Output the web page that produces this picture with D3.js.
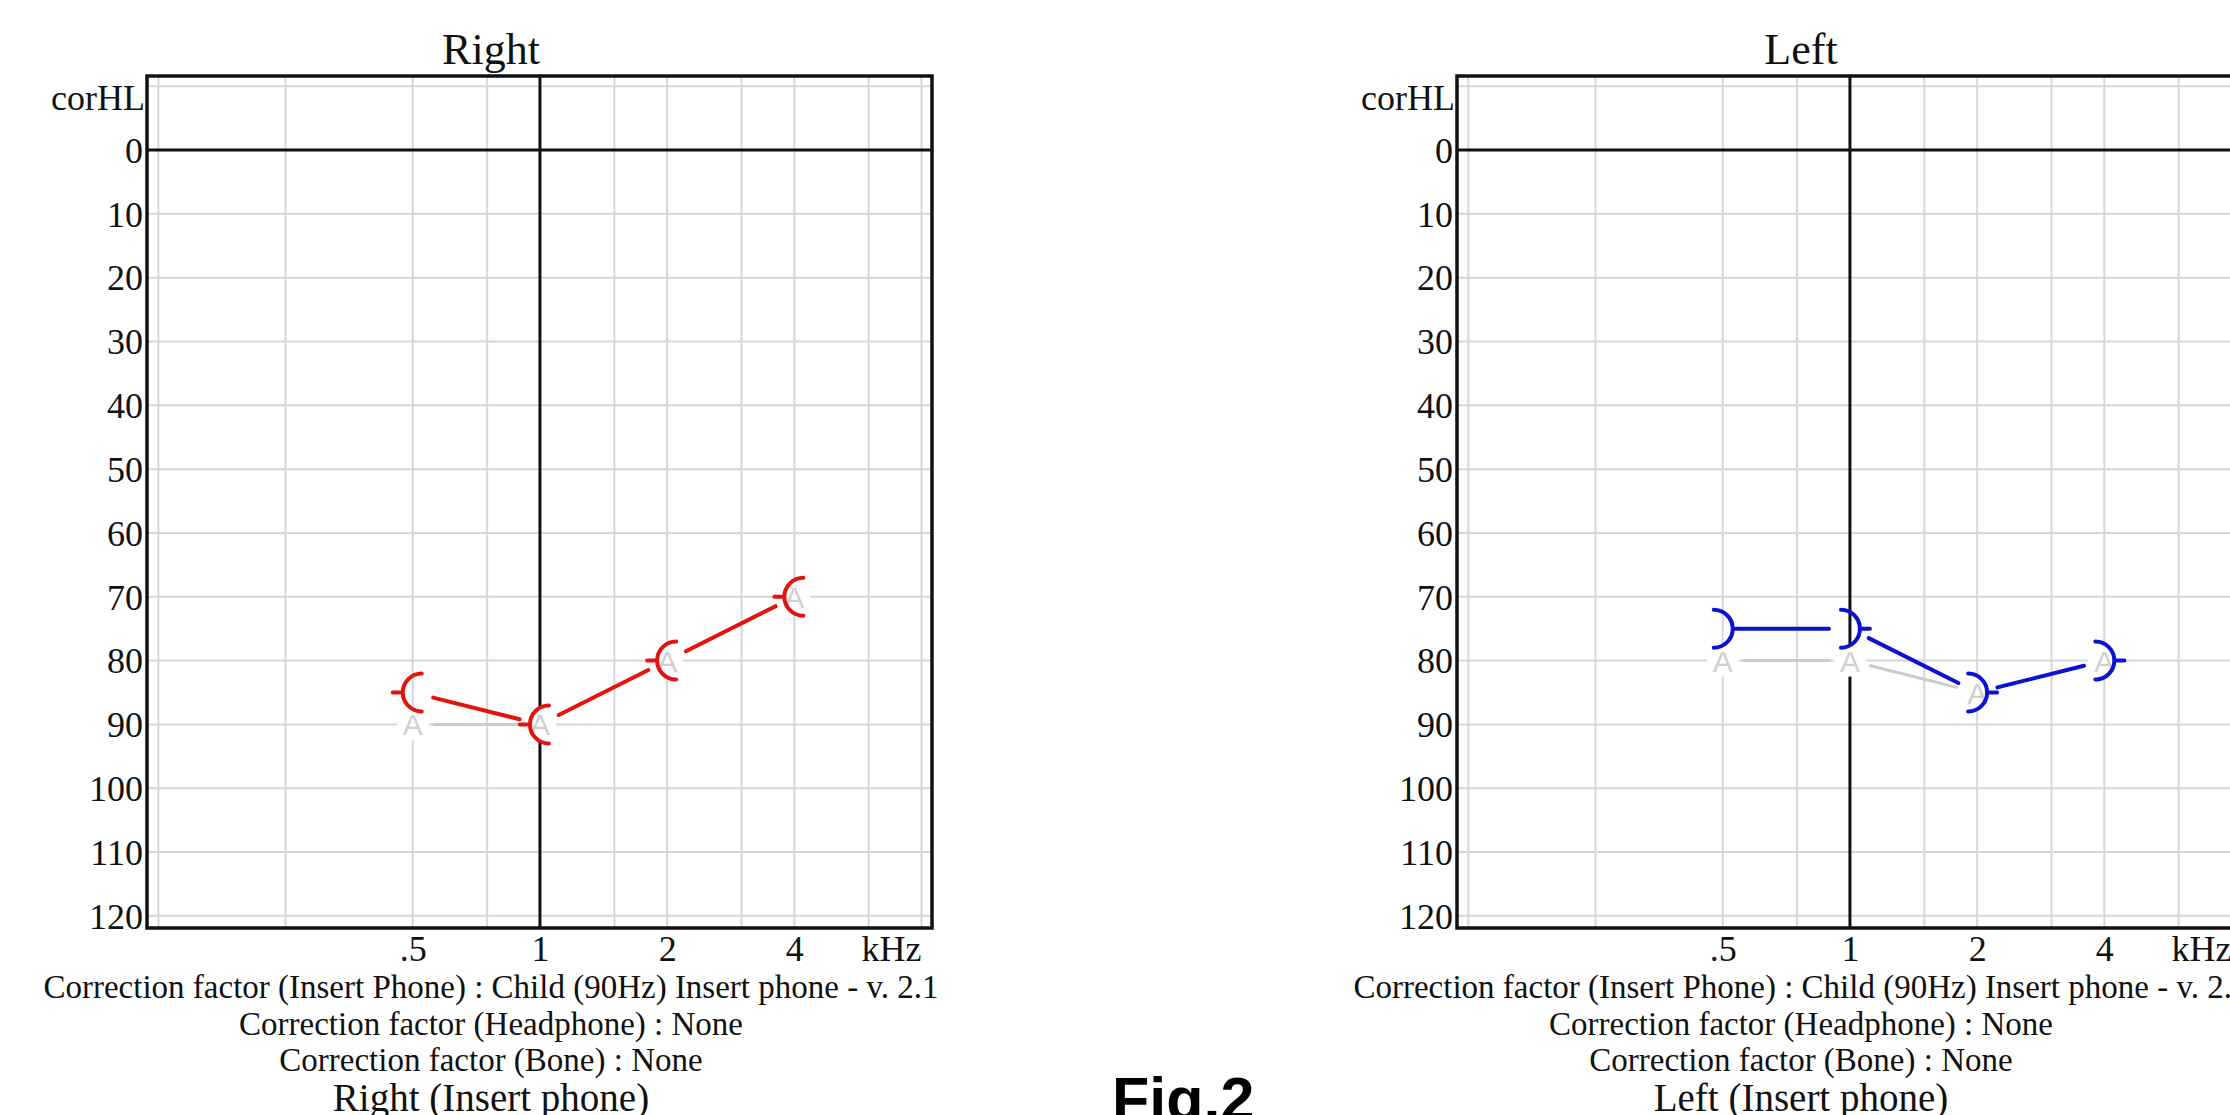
<!DOCTYPE html>
<html>
<head>
<meta charset="utf-8">
<script src="https://cdn.jsdelivr.net/npm/d3@7"></script>
<style>
  html,body{margin:0;padding:0;background:#fff;}
  svg{display:block;}
</style>
</head>
<body>
<div id="chart"></div>
<script>
// audiogram pair -- right (red) and left (blue) ear, insert phone

const GRID_FREQS = [125, 250, 500, 750, 1000, 1500, 2000, 3000, 4000, 6000, 8000];
const FREQ_TICKS = [500, 1000, 2000, 4000];
const FREQ_LABELS = [".5", "1", "2", "4"];
const DB_TICKS = [0, 10, 20, 30, 40, 50, 60, 70, 80, 90, 100, 110, 120];
const DB_GRID = [-10, 10, 20, 30, 40, 50, 60, 70, 80, 90, 100, 110, 120];

const TEST_FREQS = [500, 1000, 2000, 4000];
const RIGHT_THRESH = [85, 90, 80, 70];
const RIGHT_A = [90, 90, 80, 70];
const LEFT_THRESH = [75, 75, 85, 80];
const LEFT_A = [80, 80, 85, 80];

const FOOTER_LINES = [
  "Correction factor (Insert Phone) : Child (90Hz) Insert phone - v. 2.1",
  "Correction factor (Headphone) : None",
  "Correction factor (Bone) : None"
];

const PANELS = [
  { title:"Right", sub:"Right (Insert phone)", thresh:RIGHT_THRESH, aval:RIGHT_A, color:"#e3140e", side:"right", x0:147 },
  { title:"Left",  sub:"Left (Insert phone)",  thresh:LEFT_THRESH,  aval:LEFT_A,  color:"#0b12d2", side:"left",  x0:1457 }
];

const W = 2230, H = 1115;
const TOP = 76, PW = 785, PH = 852;
const SERIF = "'Liberation Serif','Times New Roman',serif";
const SANS = "'Liberation Sans',Arial,sans-serif";

const svg = d3.select("#chart").append("svg")
  .attr("width", W).attr("height", H)
  .style("background", "#fff");

const x = d3.scaleLog().domain([117.5, 8470]).range([0, PW]);
const y = d3.scaleLinear().domain([-11.6, 121.9]).range([0, PH]);

// shorten a segment by gap px on both ends
function trimSeg(p1, p2, gap){
  const dx = p2[0]-p1[0], dy = p2[1]-p1[1];
  const L = Math.hypot(dx, dy);
  const ux = dx/L, uy = dy/L;
  return [p1[0]+ux*gap, p1[1]+uy*gap, p2[0]-ux*gap, p2[1]-uy*gap];
}

function symbolPath(cx, cy, side){
  const r = 19, o = 9;
  if(side === "right"){
    return `M${cx+o},${cy-r} A${r},${r} 0 0 0 ${cx+o},${cy+r} M${cx-10},${cy} L${cx-20},${cy}`;
  }
  return `M${cx-o},${cy-r} A${r},${r} 0 0 1 ${cx-o},${cy+r} M${cx+10},${cy} L${cx+20},${cy}`;
}

PANELS.forEach(panel => {
  const g = svg.append("g").attr("transform", `translate(${panel.x0},${TOP})`);

  // grid
  g.selectAll("line.vg").data(GRID_FREQS.filter(f => f !== 1000)).join("line").attr("class","vg")
    .attr("x1", d => x(d)).attr("x2", d => x(d)).attr("y1", 0).attr("y2", PH)
    .attr("stroke", "#d6d6d6").attr("stroke-width", 2);
  g.selectAll("line.hg").data(DB_GRID).join("line").attr("class","hg")
    .attr("x1", 0).attr("x2", PW).attr("y1", d => y(d)).attr("y2", d => y(d))
    .attr("stroke", "#d6d6d6").attr("stroke-width", 2);

  // 0 dB and 1 kHz reference lines
  g.append("line").attr("x1", 0).attr("x2", PW).attr("y1", y(0)).attr("y2", y(0))
    .attr("stroke", "#111").attr("stroke-width", 3);
  g.append("line").attr("x1", x(1000)).attr("x2", x(1000)).attr("y1", 0).attr("y2", PH)
    .attr("stroke", "#111").attr("stroke-width", 3);

  // grey "A" series
  const aPts = TEST_FREQS.map((f, i) => [x(f), y(panel.aval[i])]);
  d3.pairs(aPts).forEach(([p1, p2]) => {
    const s = trimSeg(p1, p2, 20);
    g.append("line").attr("x1", s[0]).attr("y1", s[1]).attr("x2", s[2]).attr("y2", s[3])
      .attr("stroke", "#cbcbcb").attr("stroke-width", 3);
  });
  g.selectAll("rect.abg").data(aPts).join("rect").attr("class","abg")
    .attr("x", d => d[0]-16).attr("y", d => d[1]-16).attr("width", 32).attr("height", 32)
    .attr("fill", "#fff");
  g.selectAll("text.a").data(aPts).join("text").attr("class","a")
    .attr("x", d => d[0]).attr("y", d => d[1]+11)
    .attr("text-anchor", "middle").attr("fill", "#d0d0d0")
    .style("font-family", SANS).style("font-size", "30px")
    .text("A");

  // coloured threshold series
  const tPts = TEST_FREQS.map((f, i) => [x(f), y(panel.thresh[i])]);
  d3.pairs(tPts).forEach(([p1, p2]) => {
    const s = trimSeg(p1, p2, 21);
    g.append("line").attr("x1", s[0]).attr("y1", s[1]).attr("x2", s[2]).attr("y2", s[3])
      .attr("stroke", panel.color).attr("stroke-width", 4).attr("stroke-linecap", "round");
  });
  g.selectAll("path.sym").data(tPts).join("path").attr("class","sym")
    .attr("d", d => symbolPath(d[0], d[1], panel.side))
    .attr("fill", "none").attr("stroke", panel.color)
    .attr("stroke-width", 4).attr("stroke-linecap", "round");

  // frame
  g.append("rect").attr("x", 0).attr("y", 0).attr("width", PW).attr("height", PH)
    .attr("fill", "none").attr("stroke", "#111").attr("stroke-width", 3.5);

  // y axis labels
  g.append("g")
    .call(d3.axisLeft(y).tickValues(DB_TICKS).tickSize(0).tickPadding(4))
    .call(a => a.select(".domain").remove())
    .call(a => a.selectAll("text")
      .attr("fill", "#111").attr("dy", "0.34em")
      .style("font-size", "36px").style("font-family", SERIF));

  g.append("text").attr("x", -2).attr("y", 34)
    .attr("text-anchor", "end").attr("fill", "#111")
    .style("font-size", "36px").style("font-family", SERIF)
    .text("corHL");

  // x axis labels
  g.append("g").attr("transform", `translate(0,${PH})`)
    .call(d3.axisBottom(x).tickValues(FREQ_TICKS).tickFormat((d, i) => FREQ_LABELS[i]).tickSize(0))
    .call(a => a.select(".domain").remove())
    .call(a => a.selectAll("text")
      .attr("fill", "#111").attr("y", 33).attr("dy", 0)
      .style("font-size", "36px").style("font-family", SERIF));

  g.append("text").attr("x", x(8000)).attr("y", PH+33)
    .attr("text-anchor", "end").attr("fill", "#111")
    .style("font-size", "36px").style("font-family", SERIF)
    .text("kHz");

  // title and footer
  const tcx = 344;
  g.append("text").attr("x", tcx).attr("y", 64-TOP)
    .attr("text-anchor", "middle").attr("fill", "#111")
    .style("font-size", "44px").style("font-family", SERIF)
    .text(panel.title);

  g.selectAll("text.foot").data(FOOTER_LINES).join("text").attr("class","foot")
    .attr("x", tcx).attr("y", (d, i) => 998-TOP + i*36.5)
    .attr("text-anchor", "middle").attr("fill", "#111")
    .style("font-size", "33px").style("font-family", SERIF)
    .text(d => d);

  g.append("text").attr("x", tcx).attr("y", 1111-TOP)
    .attr("text-anchor", "middle").attr("fill", "#111")
    .style("font-size", "39px").style("font-family", SERIF)
    .text(panel.sub);
});

svg.append("text").attr("x", 1112).attr("y", 1120)
  .attr("fill", "#000")
  .style("font-size", "61px").style("font-weight", "bold").style("font-family", SANS)
  .text("Fig.2");
</script>
</body>
</html>
